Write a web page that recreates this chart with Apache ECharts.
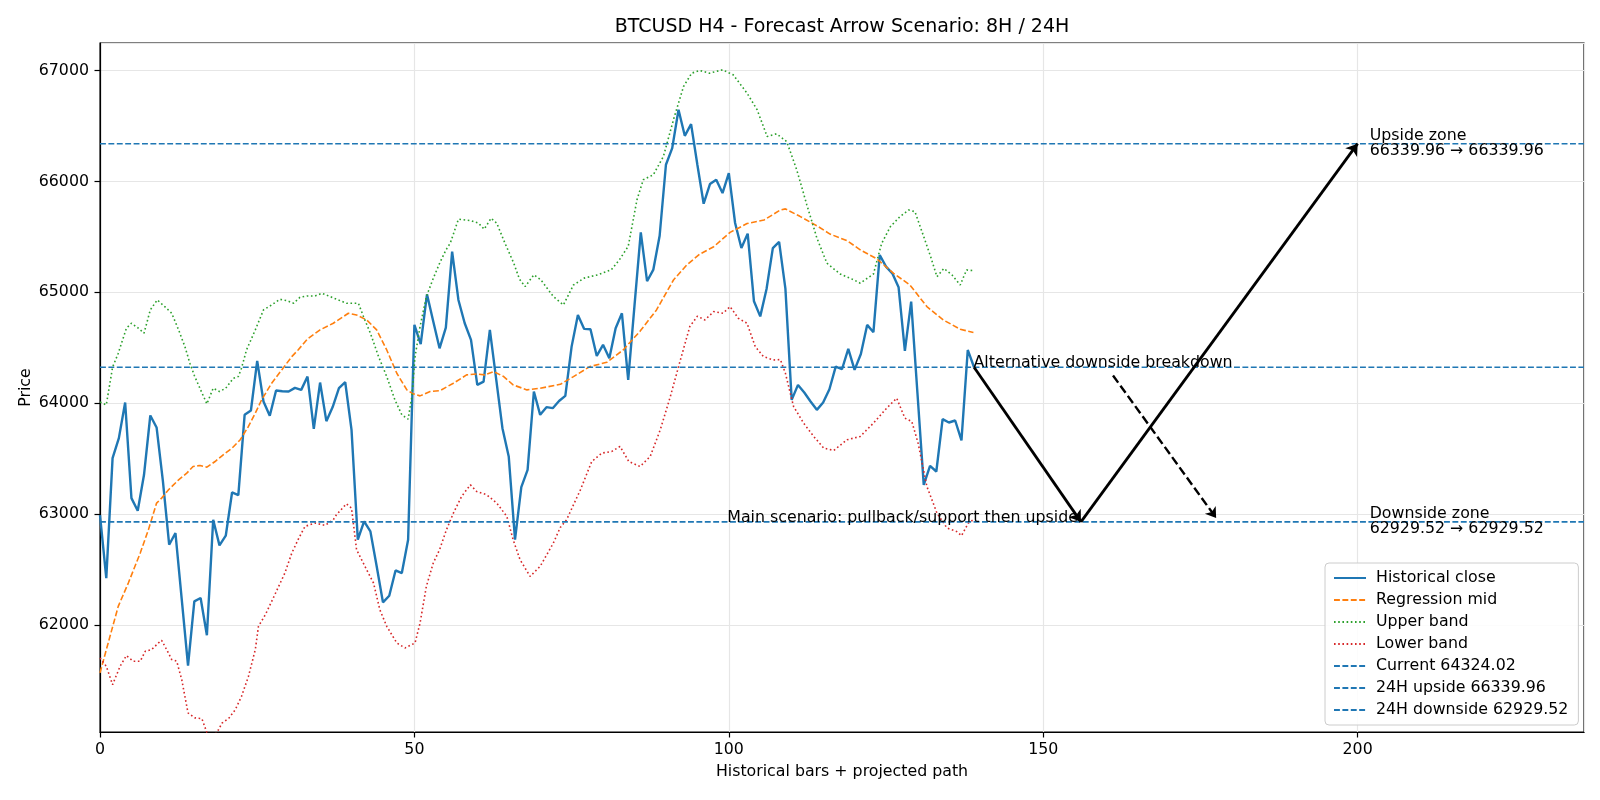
<!DOCTYPE html>
<html><head><meta charset="utf-8">
<script src="https://cdn.jsdelivr.net/npm/echarts@6/dist/echarts.min.js"></script>
<style>html,body{margin:0;padding:0;background:#fff}#c{width:1600px;height:800px}</style>
</head><body><div id="c"></div>
<script>
// ---- data ----
const closeValues = [
  62990, 62423, 63505, 63685, 64006, 63144, 63030, 63354, 63889, 63781,
  63300, 62724, 62829, 62230, 61634, 62213, 62243, 61907, 62949, 62718,
  62805, 63195, 63171, 63895, 63934, 64381, 64015, 63886, 64114, 64108,
  64105, 64138, 64120, 64240, 63769, 64186, 63838, 63965, 64135, 64189,
  63760, 62769, 62934, 62844, 62530, 62204, 62264, 62492, 62468, 62769,
  64706, 64532, 64982, 64736, 64495, 64682, 65366, 64931, 64721, 64571,
  64165, 64195, 64661, 64220, 63775, 63520, 62769, 63243, 63399, 64105,
  63895, 63964, 63955, 64020, 64066, 64510, 64796, 64670, 64667, 64426,
  64526, 64405, 64676, 64811, 64210, 64880, 65541, 65100, 65205, 65510,
  66150, 66300, 66646, 66411, 66516, 66150, 65799, 65976, 66015, 65895,
  66075, 65625, 65399, 65529, 64919, 64783, 65030, 65398, 65455, 65033,
  64030, 64165, 64096, 64015, 63940, 64006, 64126, 64330, 64306, 64489,
  64300, 64444, 64706, 64640, 65336, 65231, 65171, 65045, 64471, 64916,
  64090, 63264, 63435, 63384, 63856, 63826, 63844, 63664, 64480, 64324.02
];
const regressionMid = [
  [0,61568],[1.3,61838],[2.9,62168],[4.5,62378],[6.4,62649],[7.7,62859],[9,63099],[9.8,63144],
  [10.9,63219],[12.5,63309],[13.8,63369],[14.8,63429],[15.9,63438],[17,63423],[18.3,63474],
  [19.6,63535],[21,63595],[22.3,63670],[23.6,63790],[24.7,63910],[25.7,64030],[27.3,64180],
  [28.9,64300],[30.5,64420],[31.5,64480],[33,64580],[35,64661],[37.1,64721],[39.5,64811],
  [40.8,64796],[42.4,64751],[44,64661],[45.6,64480],[47.2,64270],[48.8,64120],[49.8,64084],
  [50.9,64066],[52.5,64105],[54.1,64114],[56.2,64180],[58.3,64255],[59.9,64264],[61.2,64255],
  [62.6,64285],[64.2,64240],[65.7,64165],[67.9,64120],[70,64135],[73.2,64170],[75.3,64240],
  [77.9,64330],[80.6,64369],[83.2,64480],[85.9,64650],[88.5,64841],[91.2,65111],[93.3,65246],
  [95.4,65345],[97.6,65411],[100.2,65540],[102.9,65620],[105.6,65652],[108.2,65742],[109,65752],
  [111.3,65685],[114,65600],[116.1,65525],[118.8,65465],[120.9,65383],[123.5,65303],[126.2,65171],
  [128.8,65066],[131.5,64871],[134.1,64751],[136.8,64667],[138.9,64637]
];
const upperBand = [
  [0,64010],[1,63985],[2,64324],[2.9,64450],[4.2,64676],[5,64721],[6.1,64676],[7,64631],[8,64841],
  [9.1,64931],[10.3,64871],[11.4,64811],[12.5,64661],[13.5,64510],[14.3,64360],[15,64250],[16,64120],
  [17,63994],[18,64135],[19,64105],[20,64135],[21.2,64225],[22,64240],[22.5,64315],[23.3,64480],
  [24.7,64661],[26,64841],[27.3,64886],[28.6,64937],[29.7,64925],[30.8,64901],[31.8,64955],
  [32.9,64967],[34.2,64967],[35.3,64991],[36.6,64961],[37.9,64931],[39.2,64901],[41.1,64901],
  [41.9,64781],[43,64631],[44.3,64420],[45.6,64240],[46.9,64030],[48,63895],[49,63856],[49.6,64060],
  [50.1,64420],[50.9,64691],[51.9,64961],[53,65126],[54,65261],[55,65380],[55.7,65443],[57,65659],
  [58.9,65647],[60.2,65623],[61.1,65569],[62.2,65668],[63.1,65623],[64.4,65443],[65.8,65263],
  [66.7,65119],[67.6,65051],[69,65158],[70.1,65113],[72.1,64961],[73.7,64886],[75.3,65066],
  [77,65128],[79.2,65158],[81.3,65203],[82.6,65293],[84,65414],[85.4,65835],[86.4,66015],[88,66060],
  [89.6,66225],[91.2,66556],[92.8,66856],[94.1,66976],[95.4,67000],[96.9,66976],[99,67006],
  [100.7,66961],[102.9,66796],[104.5,66646],[106.1,66405],[107.6,66429],[109.2,66360],[110.8,66105],
  [112.4,65790],[114,65490],[115.6,65262],[117.7,65165],[119.8,65114],[120.9,65082],[123,65165],
  [124.3,65440],[125.7,65592],[127.2,65682],[128.6,65742],[129.6,65727],[131,65501],[132.1,65321],
  [133.1,65141],[134.2,65216],[135.5,65156],[136.8,65066],[137.8,65201],[138.9,65195]
];
const lowerBand = [
  [0,61703],[1,61628],[2,61462],[3.2,61628],[4.2,61724],[5.3,61673],[6.4,61673],[7.2,61763],
  [8.2,61778],[9.3,61838],[9.8,61862],[10.6,61778],[11.4,61688],[12.2,61673],[13,61507],[14,61207],
  [15.1,61162],[16.2,61156],[17,61030],[17.8,60990],[18.6,61030],[19.4,61115],[20.5,61160],
  [21.5,61235],[22.5,61355],[23.6,61535],[24.7,61778],[25.2,61988],[26.3,62093],[27.8,62273],
  [29.4,62468],[30.5,62648],[31.5,62769],[32.6,62889],[34.2,62919],[35.8,62898],[37.1,62949],
  [37.6,62994],[39.2,63093],[40,63054],[40.8,62679],[42.4,62498],[43.5,62378],[44.5,62138],
  [45.6,61988],[47.2,61838],[48.5,61793],[50.1,61838],[50.9,62018],[51.9,62348],[53,62559],
  [54,62679],[55.1,62859],[56.2,63009],[57.5,63159],[58.9,63264],[59.9,63204],[61.5,63174],
  [63.1,63099],[64.7,62979],[65.7,62769],[66.8,62589],[68.4,62438],[70,62529],[72.1,62739],
  [73.2,62880],[74.2,62949],[76.4,63219],[78.2,63474],[79.8,63550],[81.4,63565],[82.7,63610],
  [84.1,63474],[85.9,63429],[87.5,63520],[89.1,63760],[90.7,64060],[92.3,64390],[93.8,64691],
  [95,64784],[96.2,64751],[97.6,64826],[99.1,64811],[100.2,64871],[101.5,64766],[102.9,64721],
  [104.2,64510],[105.5,64420],[107.1,64390],[108.2,64393],[109,64270],[110.3,63970],[111.9,63820],
  [113.5,63700],[115.1,63595],[116.7,63574],[118.8,63670],[120.9,63700],[123,63820],[125.1,63955],
  [126.7,64045],[128,63865],[129.1,63835],[130.1,63640],[131.5,63249],[133.1,63009],[134.7,62874],
  [136.2,62844],[137,62805],[138.1,62919],[138.9,62949]
];
const currentPrice = 64324.02;
const upside24H = 66339.96;
const downside24H = 62929.52;
const mainPathX = [139, 156, 200];            // x of current bar, 8H point, 24H point
const altArrowStart = [161.1, 64250];
const altArrowEnd = [177.5, 62965];
const xMin = 0, xMax = 236;
const yMin = 61035, yMax = 67248;
const xTicks = [0, 50, 100, 150, 200];
const titleText = 'BTCUSD H4 - Forecast Arrow Scenario: 8H / 24H';
const legendNames = ['Historical close', 'Regression mid', 'Upper band', 'Lower band',
  'Current ' + currentPrice.toFixed(2), '24H upside ' + upside24H.toFixed(2), '24H downside ' + downside24H.toFixed(2)];

// ---- chart ----
const FONT = 'DejaVu Sans';
const FS = 15.8;
const chart = echarts.init(document.getElementById('c'), null, {renderer: 'canvas'});
const dash = [5.9, 2.5];
const dot = [1.6, 2.6];
const hline = (name, v) => ({
  name, type: 'line', symbol: 'none', silent: true,
  data: [[xMin, v], [xMax, v]],
  lineStyle: {color: '#1f77b4', width: 1.6, type: dash}
});
const mainPath = [[mainPathX[0], currentPrice], [mainPathX[1], downside24H], [mainPathX[2], upside24H]];
const txt = (extra) => Object.assign({show: true, fontFamily: FONT, fontSize: FS, color: '#000',
  textBorderWidth: 0, opacity: 1, position: [0, 0]}, extra);

chart.setOption({
  animation: false,
  backgroundColor: '#fff',
  textStyle: {fontFamily: FONT},
  title: {
    text: titleText, left: 837, top: 13, textAlign: 'center',
    textStyle: {fontFamily: FONT, fontSize: 19, fontWeight: 'normal', color: '#000'}
  },
  grid: {left: 100, right: 16, top: 43, bottom: 68, show: true, borderColor: '#000', borderWidth: 1.2, backgroundColor: 'transparent'},
  legend: {
    orient: 'vertical', left: 1325, top: 563,
    data: legendNames,
    itemWidth: 32, itemHeight: 14, itemGap: 6,
    padding: [7, 10, 7, 8],
    backgroundColor: 'rgba(255,255,255,0.85)', borderColor: '#cccccc', borderWidth: 1, borderRadius: 4,
    itemStyle: {opacity: 0},
    textStyle: {fontFamily: FONT, fontSize: FS, color: '#000', lineHeight: 16, padding: [0, 0, 0, 5]}
  },
  xAxis: {
    type: 'value', min: xMin, max: xMax, interval: 50,
    name: 'Historical bars + projected path', nameLocation: 'middle', nameGap: 32,
    nameTextStyle: {fontFamily: FONT, fontSize: FS, color: '#000'},
    axisLine: {lineStyle: {color: '#000', width: 1.2}},
    axisTick: {length: 5.5, lineStyle: {color: '#000', width: 1.2}},
    axisLabel: {fontFamily: FONT, fontSize: FS, color: '#000', margin: 10, showMaxLabel: false,
      formatter: v => xTicks.includes(v) ? String(v) : ''},
    splitLine: {show: true, lineStyle: {color: '#e6e6e6', width: 1.2}}
  },
  yAxis: {
    type: 'value', min: yMin, max: yMax, splitNumber: 6,
    name: 'Price', nameLocation: 'middle', nameGap: 66, nameMoveOverlap: false,
    nameTextStyle: {fontFamily: FONT, fontSize: FS, color: '#000'},
    axisLine: {show: true, lineStyle: {color: '#000', width: 1.2}},
    axisTick: {show: true, length: 5.5, lineStyle: {color: '#000', width: 1.2}},
    axisLabel: {fontFamily: FONT, fontSize: FS, color: '#000', margin: 11, showMinLabel: false, showMaxLabel: false,
      formatter: v => (v % 1000 === 0 ? String(v) : '')},
    splitLine: {show: true, lineStyle: {color: '#e6e6e6', width: 1.2}}
  },
  series: [
    {name: legendNames[0], type: 'line', symbol: 'none', silent: true,
      data: closeValues.map((v, i) => [i, v]),
      lineStyle: {color: '#1f77b4', width: 2.4}},
    {name: legendNames[1], type: 'line', symbol: 'none', silent: true, data: regressionMid,
      lineStyle: {color: '#ff7f0e', width: 1.6, type: dash}},
    {name: legendNames[2], type: 'line', symbol: 'none', silent: true, data: upperBand,
      lineStyle: {color: '#2ca02c', width: 1.6, type: dot}},
    {name: legendNames[3], type: 'line', symbol: 'none', silent: true, data: lowerBand,
      lineStyle: {color: '#d62728', width: 1.6, type: dot}},
    hline(legendNames[4], currentPrice),
    hline(legendNames[5], upside24H),
    hline(legendNames[6], downside24H),
    {type: 'lines', coordinateSystem: 'cartesian2d', silent: true, z: 5,
      symbol: ['none', 'arrow'], symbolSize: 11,
      lineStyle: {color: '#000', width: 2.8, opacity: 1},
      data: [{coords: [mainPath[0], mainPath[1]]}, {coords: [mainPath[1], mainPath[2]]}]},
    {type: 'lines', coordinateSystem: 'cartesian2d', silent: true, z: 5,
      symbol: ['none', 'arrow'], symbolSize: 10,
      lineStyle: {color: '#000', width: 2.4, opacity: 1, type: [8.8, 3.8]},
      data: [{coords: [altArrowStart, altArrowEnd]}]},
    {type: 'scatter', silent: true, symbolSize: 1, itemStyle: {color: 'rgba(0,0,0,0)', opacity: 1}, z: 6,
      label: txt({}),
      emphasis: {disabled: true},
      data: [
        {value: [mainPathX[0], currentPrice], label: txt({formatter: 'Alternative downside breakdown', align: 'left', verticalAlign: 'bottom', lineHeight: 16, offset: [0, 4]})},
        {value: [155.6, downside24H], label: txt({formatter: 'Main scenario: pullback/support then upside', align: 'right', verticalAlign: 'bottom', lineHeight: 16, offset: [0, 4]})},
        {value: [202, upside24H], label: txt({formatter: 'Upside zone\n' + upside24H.toFixed(2) + ' → ' + upside24H.toFixed(2), align: 'left', verticalAlign: 'middle', lineHeight: 15.5})},
        {value: [202, downside24H], label: txt({formatter: 'Downside zone\n' + downside24H.toFixed(2) + ' → ' + downside24H.toFixed(2), align: 'left', verticalAlign: 'middle', lineHeight: 15.5})}
      ]}
  ]
});
</script></body></html>
